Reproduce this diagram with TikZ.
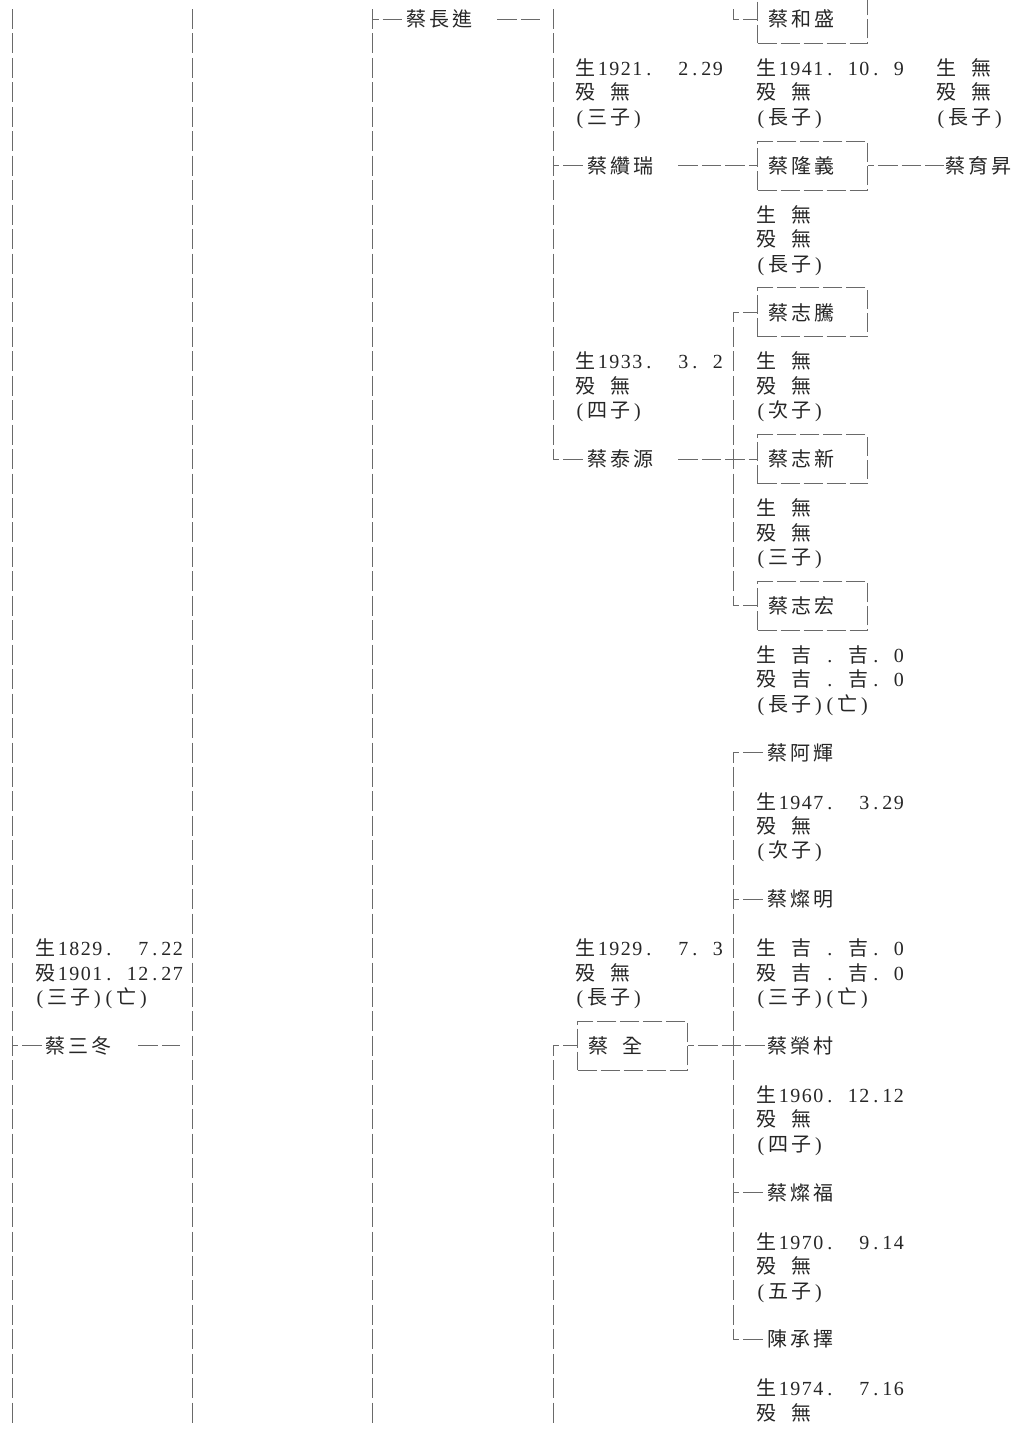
\documentclass[tikz,border=0pt]{standalone}
\usepackage{fontspec}
\newfontfamily\cjkfont{Noto Sans CJK TC}
\newfontfamily\latfam{Liberation Serif}
\definecolor{TreeGray}{HTML}{6A6A6A}
\definecolor{InkGray}{HTML}{262626}
% fixed cells: a CJK sign takes two, anything else one
\newcommand\monocell[1]{\ifnum`#1>255 \hbox to 23pt{\hss\cjkfont#1\hss}\else\hbox to 11.5pt{\hss\latfam#1\hss}\fi}
\newcommand\monoloop[1]{\ifx#1\relax\else\monocell{#1}\expandafter\monoloop\fi}
\newcommand\mono[1]{\monoloop#1\relax}

\begin{document}
\begin{tikzpicture}[x=1pt,y=-24.45pt,
    vline/.style={TreeGray,line width=1pt,dash pattern=on 20pt off 4.45pt,dash phase=22.2pt},
    hline/.style={TreeGray,line width=1pt,dash pattern=on 19.5pt off 4pt,dash phase=13.5pt},
    trail/.style={hline,dash phase=0pt},
    person/.style={anchor=west,inner sep=0pt,text=InkGray,text height=17.6pt,text depth=2.4pt,font=\fontsize{20}{24.45}\selectfont},
    personbox/.style={person,draw=TreeGray,line width=1pt,dash pattern=on 19pt off 4pt,inner xsep=9pt,text width=92pt,align=left,minimum height=48.9pt},
    lifedata/.style={anchor=base west,yshift=-7.6pt,inner sep=0pt,text=InkGray,align=left,font=\fontsize{20}{24.45}\selectfont}
  ]
  \useasboundingbox (0,-0.7771) rectangle (1022,57.751);

  % generation lines
  \coordinate (t0a) at (12.3,-0.5);  \coordinate (t0b) at (12.3,57.5);
  \coordinate (t1a) at (192.3,-0.5); \coordinate (t1b) at (192.3,57.5);
  \coordinate (t2a) at (372.5,-0.5); \coordinate (t2b) at (372.5,57.5);
  \coordinate (t3a) at (553.3,-0.5); \coordinate (t3b) at (553.3,18);
  \coordinate (t3c) at (553.3,42);   \coordinate (t3d) at (553.3,57.5);
  \coordinate (t4a) at (733.3,-0.5); \coordinate (t4b) at (733.3,0);
  \coordinate (t4c) at (733.3,12);   \coordinate (t4d) at (733.3,24);
  \coordinate (t4e) at (733.3,30);   \coordinate (t4f) at (733.3,54);
  \draw[vline] (t0a) -- (t0b);
  \draw[vline] (t1a) -- (t1b);
  \draw[vline] (t2a) -- (t2b);
  \draw[vline] (t3a) -- (t3b);
  \draw[vline,dash phase=10pt] (t3c) -- (t3d);
  \draw[vline] (t4a) -- (t4b);
  \draw[vline,dash phase=10pt] (t4c) -- (t4d);
  \draw[vline,dash phase=10pt] (t4e) -- (t4f);

  % names
  \node[person] (sandong) at (44,42) {\mono{蔡三冬}};
  \node[person] (changjin) at (405,0) {\mono{蔡長進}};
  \node[person] (zuanrui) at (586,6) {\mono{蔡纘瑞}};
  \node[person] (taiyuan) at (586,18) {\mono{蔡泰源}};
  \node[personbox] (quan) at (577,42) {\mono{蔡~全}};
  \node[personbox] (hesheng) at (757,0) {\mono{蔡和盛}};
  \node[personbox] (longyi) at (757,6) {\mono{蔡隆義}};
  \node[person] (yusheng) at (944,6) {\mono{蔡育昇}};
  \node[personbox] (zhiteng) at (757,12) {\mono{蔡志騰}};
  \node[personbox] (zhixin) at (757,18) {\mono{蔡志新}};
  \node[personbox] (zhihong) at (757,24) {\mono{蔡志宏}};
  \node[person] (ahui) at (766,30) {\mono{蔡阿輝}};
  \node[person] (canming) at (766,36) {\mono{蔡燦明}};
  \node[person] (rongcun) at (766,42) {\mono{蔡榮村}};
  \node[person] (canfu) at (766,48) {\mono{蔡燦福}};
  \node[person] (chengze) at (766,54) {\mono{陳承擇}};

  % birth, death, rank (placed by their last line)
  \node[lifedata] (sandong-d) at (34,40) {\mono{生1829.~~7.22}\\\mono{殁1901.~12.27}\\\mono{(三子)(亡)}};
  \node[lifedata] (zuanrui-d) at (574,4) {\mono{生1921.~~2.29}\\\mono{殁~無}\\\mono{(三子)}};
  \node[lifedata] (hesheng-d) at (755,4) {\mono{生1941.~10.~9}\\\mono{殁~無}\\\mono{(長子)}};
  \node[lifedata] (yusheng-d) at (935,4) {\mono{生~無}\\\mono{殁~無}\\\mono{(長子)}};
  \node[lifedata] (longyi-d) at (755,10) {\mono{生~無}\\\mono{殁~無}\\\mono{(長子)}};
  \node[lifedata] (taiyuan-d) at (574,16) {\mono{生1933.~~3.~2}\\\mono{殁~無}\\\mono{(四子)}};
  \node[lifedata] (zhiteng-d) at (755,16) {\mono{生~無}\\\mono{殁~無}\\\mono{(次子)}};
  \node[lifedata] (zhixin-d) at (755,22) {\mono{生~無}\\\mono{殁~無}\\\mono{(三子)}};
  \node[lifedata] (zhihong-d) at (755,28) {\mono{生~吉~.~吉.~0}\\\mono{殁~吉~.~吉.~0}\\\mono{(長子)(亡)}};
  \node[lifedata] (ahui-d) at (755,34) {\mono{生1947.~~3.29}\\\mono{殁~無}\\\mono{(次子)}};
  \node[lifedata] (quan-d) at (574,40) {\mono{生1929.~~7.~3}\\\mono{殁~無}\\\mono{(長子)}};
  \node[lifedata] (canming-d) at (755,40) {\mono{生~吉~.~吉.~0}\\\mono{殁~吉~.~吉.~0}\\\mono{(三子)(亡)}};
  \node[lifedata] (rongcun-d) at (755,46) {\mono{生1960.~12.12}\\\mono{殁~無}\\\mono{(四子)}};
  \node[lifedata] (canfu-d) at (755,52) {\mono{生1970.~~9.14}\\\mono{殁~無}\\\mono{(五子)}};
  \node[lifedata] (chengze-d) at (755,57) {\mono{生1974.~~7.16}\\\mono{殁~無}};

  % branches
  \draw[hline] (sandong.west -| t0a) -- (sandong.west);
  \draw[trail,shorten <=25pt,shorten >=12pt] (sandong.east) -- (sandong.east -| t1a);
  \draw[hline] (changjin.west -| t2a) -- (changjin.west);
  \draw[trail,shorten <=23pt,shorten >=13pt] (changjin.east) -- (changjin.east -| t3a);
  \draw[hline] (zuanrui.west -| t3a) -- (zuanrui.west);
  \draw[trail,shorten <=23pt] (zuanrui.east) -- (longyi.west);
  \draw[hline] (taiyuan.west -| t3a) -- (taiyuan.west);
  \draw[trail,shorten <=23pt] (taiyuan.east) -- (zhixin.west);
  \draw[hline] (quan.west -| t3a) -- (quan.west);
  \draw[hline] (quan.east) -- (rongcun.west);
  \draw[hline] (hesheng.west -| t4a) -- (hesheng.west);
  \draw[hline] (longyi.east) -- (yusheng.west);
  \draw[hline] (zhiteng.west -| t4a) -- (zhiteng.west);
  \draw[hline] (zhihong.west -| t4a) -- (zhihong.west);
  \draw[hline] (ahui.west -| t4a) -- (ahui.west);
  \draw[hline] (canming.west -| t4a) -- (canming.west);
  \draw[hline] (canfu.west -| t4a) -- (canfu.west);
  \draw[hline] (chengze.west -| t4a) -- (chengze.west);
\end{tikzpicture}
\end{document}
